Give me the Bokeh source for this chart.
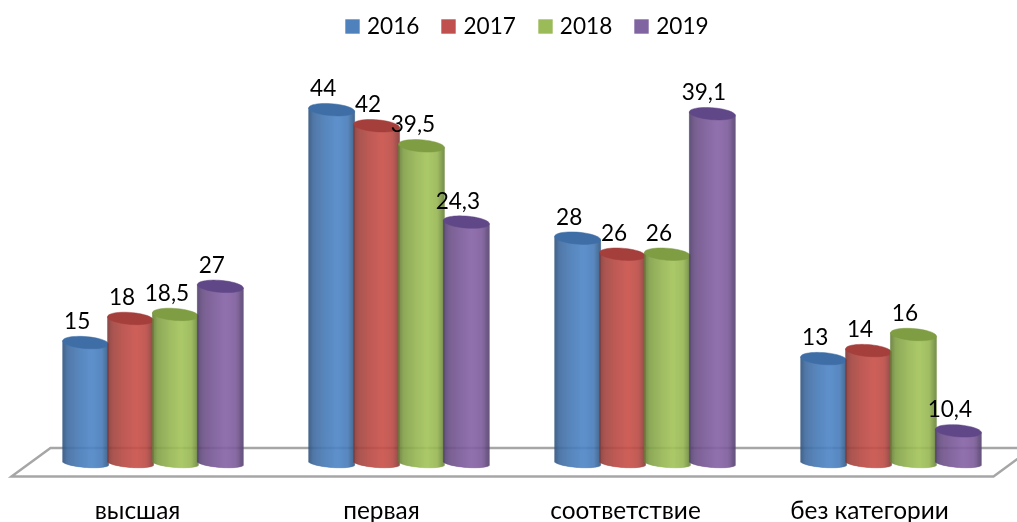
from bokeh.embed import file_html
from bokeh.resources import INLINE
from bokeh.plotting import figure
from bokeh.models import Legend, LegendItem, Range1d
from bokeh.core.properties import value
import numpy as np

categories = ["высшая", "первая", "соответствие", "без категории"]
series = ["2016", "2017", "2018", "2019"]
# bar heights as drawn (the 2019 bars do not match their printed labels in the source)
v2016 = [15, 44, 28, 13]
v2017 = [18, 42, 26, 14]
v2018 = [18.5, 39.5, 26, 16]
v2019 = [22, 30, 43.5, 4]
l2016 = ["15", "44", "28", "13"]
l2017 = ["18", "42", "26", "14"]
l2018 = ["18,5", "39,5", "26", "16"]
l2019 = ["27", "24,3", "39,1", "10,4"]
legend_colors = ["#4f81bd", "#c0504d", "#9bbb59", "#8064a2"]
light_colors = ["#5087c7", "#ca514a", "#a4c65b", "#8864a7"]
dark_colors = ["#33557f", "#7f3a38", "#667f3a", "#52406a"]
cap_colors = ["#3f6ea6", "#a43f3c", "#7f9d42", "#604788"]
values = [v2016, v2017, v2018, v2019]
labels = [l2016, l2017, l2018, l2019]

W, H = 1017, 522
PX_PER_UNIT = 8.03
BASE_PX = 462.5
CAT_PX = 246.0
CAT0_PX = 152.5
STEP = 44.9 / CAT_PX
HALF = 23.0 / CAT_PX
RY = 6.0 / PX_PER_UNIT
BOTTOM_RY = 4.5 / PX_PER_UNIT
TILT = 0.075 * CAT_PX / PX_PER_UNIT


def X(px):
    return (px - CAT0_PX) / CAT_PX


def Y(px):
    return (BASE_PX - px) / PX_PER_UNIT


def mix(a, b, t):
    ca = [int(a[i:i + 2], 16) for i in (1, 3, 5)]
    cb = [int(b[i:i + 2], 16) for i in (1, 3, 5)]
    return "#%02x%02x%02x" % tuple(int(round(p + (q - p) * t)) for p, q in zip(ca, cb))


p = figure(width=W, height=H, output_backend="svg", toolbar_location=None,
           x_range=Range1d(X(0), X(W)), y_range=Range1d(Y(H), Y(0)),
           min_border=0, outline_line_color=None)
p.styles = {"position": "fixed", "left": "0px", "top": "0px"}
p.axis.visible = False
p.grid.visible = False
p.background_fill_color = "white"

# floor of the 3-D plot
p.patch([X(11), X(50), X(1032), X(993)], [Y(476), Y(447.5), Y(447.5), Y(476)],
        fill_color=None, line_color="#a6a6a6", line_width=2.4, line_join="miter")

STRIPS = 46
for s, (vals, lab) in enumerate(zip(values, labels)):
    cx = np.arange(4) + (s - 1.5) * STEP
    edges = np.linspace(-1, 1, STRIPS + 1)
    mids = (edges[:-1] + edges[1:]) / 2
    left, right, bottom, top, color = [], [], [], [], []
    for c, v in zip(cx, vals):
        for i, t in enumerate(mids):
            arc = np.sqrt(max(0.0, 1 - t * t))
            tilt = -t * HALF * TILT
            left.append(c + edges[i] * HALF)
            right.append(c + edges[i + 1] * HALF)
            bottom.append(tilt - BOTTOM_RY * arc)
            top.append(v + tilt)
            glow = float(np.interp(t, [-1, -0.75, -0.2, 0.25, 0.7, 1], [0.0, 0.5, 0.82, 1.0, 0.82, 0.1]))
            color.append(mix(dark_colors[s], light_colors[s], glow))
    p.quad(left=left, right=right, bottom=bottom, top=top, fill_color=color, fill_alpha=1.0,
           line_color=color, line_alpha=1.0, line_width=0.4)
    a = np.linspace(0, 2 * np.pi, 48)
    xs = [(c + HALF * np.cos(a)).tolist() for c in cx]
    ys = [(v + RY * np.sin(a) - np.cos(a) * HALF * TILT).tolist() for c, v in zip(cx, vals)]
    p.patches(xs, ys, fill_color=cap_colors[s], fill_alpha=1.0, line_color=cap_colors[s], line_width=0.5)

# data labels (drawn after every bar)
for s, (vals, lab) in enumerate(zip(values, labels)):
    cx = np.arange(4) + (s - 1.5) * STEP
    p.text(x=cx.tolist(), y=vals, text=lab, text_align="center", text_baseline="middle",
           x_offset=-8.5, y_offset=-22, text_font=value("Lato"), text_font_size="22.6px",
           text_color="#000000")

# category labels sit left of their groups because of the perspective
p.text(x=[X(137 + 244 * i) for i in range(4)], y=[Y(508.5)] * 4, text=categories,
       text_align="center", text_baseline="middle", text_font=value("Lato"),
       text_font_size="24.4px", text_color="#000000")

items = []
for s, name in enumerate(series):
    r = p.quad(left=[X(345)], right=[X(345)], bottom=[Y(26)], top=[Y(26)],
               fill_color=legend_colors[s], fill_alpha=1.0, line_color=None)
    items.append(LegendItem(label=name, renderers=[r]))
legend = Legend(items=items, orientation="horizontal", location=(343, H - 39),
                glyph_width=18, glyph_height=18, label_standoff=6, spacing=20,
                padding=0, margin=0, border_line_color=None, background_fill_alpha=0,
                label_text_font="Lato", label_text_font_size="22.6px",
                label_text_color="#000000", label_height=22, label_width=40)
p.add_layout(legend, "center")

open("out.html", "w").write(file_html(p, INLINE))
